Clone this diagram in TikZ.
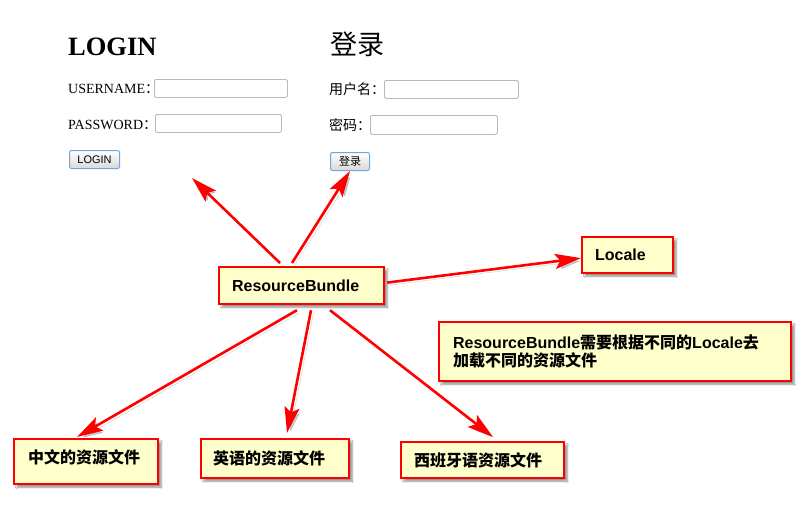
\documentclass[tikz,border=0pt]{standalone}
\usepackage{fontspec}
\setmainfont{Liberation Serif}
\newfontfamily\cjk{Noto Sans CJK SC}
\newfontfamily\lat{Liberation Sans}
\usetikzlibrary{arrows.meta,calc,shadows,shadows.blur}

\definecolor{notefill}{HTML}{FFFFCC}
\definecolor{btnblue}{HTML}{6FA8DC}

\tikzset{
  nbox/.style={draw=red, line width=2.2pt, fill=notefill, anchor=north west,
    inner ysep=0pt, align=left, font=\lat\bfseries\fontsize{16}{18}\selectfont,
    blur shadow={shadow xshift=3pt, shadow yshift=-3pt, shadow blur steps=6, shadow opacity=45}},
  redtip/.tip={Stealth[length=26pt,width=15pt,inset=5pt]},
  conn/.style={red, line width=2.6pt, -redtip,
    preaction={draw=black, opacity=0.2, transform canvas={xshift=2.5pt,yshift=-2.5pt}}},
  formlabel/.style={anchor=base west, inner sep=0pt, font=\fontsize{14}{14}\selectfont},
  cjklabel/.style={anchor=base west, inner sep=0pt, font=\cjk\fontsize{14}{14}\selectfont},
  inputbox/.style={draw=gray!55, fill=white, rounded corners=1.5pt, anchor=north west,
    inner sep=0pt, line width=0.8pt},
  btn/.style={draw=btnblue, line width=1pt, rounded corners=2pt, anchor=north west,
    top color=white, bottom color=gray!30, inner sep=0pt},
}

\begin{document}
\begin{tikzpicture}[x=1pt,y=-1pt]
\fill[white] (0,0) rectangle (800,522);
\useasboundingbox (0,0) rectangle (800,522);

% ---- English form ----
\node[anchor=base west, inner sep=0pt, font=\bfseries\fontsize{26.5}{26.5}\selectfont] (login) at (68,55) {LOGIN};
\node[formlabel] (un) at (68,93) {USERNAME{\cjk ：}};
\node[inputbox, minimum width=133pt, minimum height=18pt] (unbox) at (154,79) {};
\node[formlabel] (pw) at (68,129) {PASSWORD{\cjk ：}};
\node[inputbox, minimum width=126pt, minimum height=18pt] (pwbox) at (155,114) {};
\node[btn, minimum width=50pt, minimum height=18pt, font=\lat\fontsize{11}{11}\selectfont] (loginbtn) at (69,150) {LOGIN};

% ---- Chinese form ----
\node[anchor=base west, inner sep=0pt, font=\cjk\fontsize{27}{27}\selectfont] (dl) at (330,54) {登录};
\node[cjklabel] (yhm) at (329,94) {用户名：};
\node[inputbox, minimum width=134pt, minimum height=18pt] (yhmbox) at (384,80) {};
\node[cjklabel] (mm) at (329,130) {密码：};
\node[inputbox, minimum width=127pt, minimum height=19pt] (mmbox) at (370,115) {};
\node[btn, minimum width=39pt, minimum height=18pt, font=\cjk\fontsize{11}{11}\selectfont] (dlbtn) at (330,152) {登录};

% ---- boxes ----
\node[nbox, inner xsep=13pt, text width=139pt, minimum width=165pt, minimum height=37pt] (rb) at (218,266) {ResourceBundle};
\node[nbox, inner xsep=13pt, text width=65pt, minimum width=91pt, minimum height=36pt] (loc) at (581,236) {Locale};
\node[nbox, inner xsep=14pt, text width=324pt, minimum width=352pt, minimum height=59pt] (note) at (438,321)
  {ResourceBundle{\cjk 需要根据不同的}Locale{\cjk 去}\\{\cjk 加载不同的资源文件}};
\node[nbox, inner xsep=14pt, text width=116pt, minimum width=144pt, minimum height=45pt, text height=12pt, text depth=9pt, font=\cjk\bfseries\fontsize{16}{18}\selectfont] (zh) at (13,438) {中文的资源文件};
\node[nbox, inner xsep=12pt, text width=124pt, minimum width=148pt, minimum height=39pt, font=\cjk\bfseries\fontsize{16}{18}\selectfont] (en) at (200,438) {英语的资源文件};
\node[nbox, inner xsep=13pt, text width=137pt, minimum width=163pt, minimum height=36pt, font=\cjk\bfseries\fontsize{16}{18}\selectfont] (es) at (400,441) {西班牙语资源文件};

% ---- connectors ----
\coordinate (c1) at (192,178);
\draw[conn] ($(rb.north west)+(62,-3)$) -- (c1);
\draw[conn] ($(rb.north west)+(74,-3)$) -- (dlbtn.south);
\draw[conn] ($(rb.east)+(2,-3)$) -- ($(loc.west)+(0,3)$);
\draw[conn] ($(rb.south west)+(79,5)$) -- ($(zh.north west)+(64,-1)$);
\draw[conn] ($(rb.south west)+(93,5)$) -- ($(en.north west)+(87,-5)$);
\draw[conn] ($(rb.south west)+(112,5)$) -- ($(es.north west)+(93,-4)$);
\end{tikzpicture}
\end{document}
